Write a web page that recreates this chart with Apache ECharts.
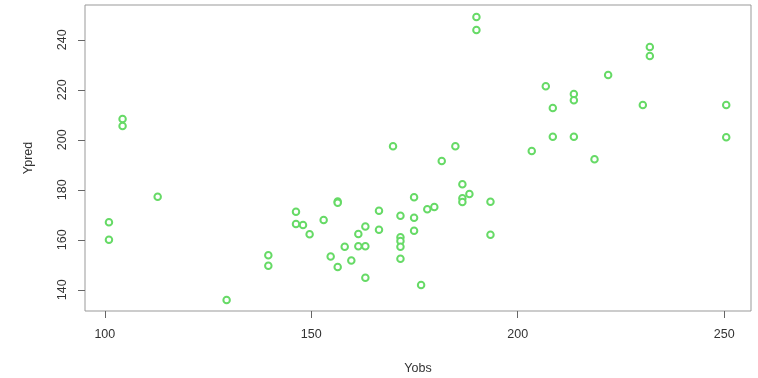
<!DOCTYPE html>
<html>
<head>
<meta charset="utf-8">
<script src="https://cdn.jsdelivr.net/npm/echarts@6/dist/echarts.min.js"></script>
<style>html,body{margin:0;padding:0;background:#fff}#c{width:758px;height:378px}</style>
</head>
<body>
<div id="c"></div>
<script>
const yobs = [101.0,101.0,104.3,104.3,112.8,129.5,139.6,139.6,146.3,146.3,148.0,149.6,153.0,154.7,156.4,156.4,156.4,158.1,159.7,161.4,161.4,163.1,163.1,163.1,166.4,166.4,169.8,171.6,171.6,171.6,171.6,171.6,174.9,174.9,174.9,176.6,178.1,179.8,181.6,184.9,186.6,186.6,186.6,188.3,190.0,190.0,193.4,193.4,203.4,206.8,208.5,208.5,213.6,213.6,213.6,218.6,221.9,230.3,232.0,232.0,250.5,250.5];
const ypred = [167.0,160.0,208.3,205.5,177.2,135.9,153.8,149.6,171.2,166.3,165.9,162.2,167.9,153.3,175.3,174.8,149.1,157.2,151.7,162.3,157.4,157.4,165.3,144.8,171.6,164.0,197.4,169.6,161.0,159.5,157.2,152.4,177.0,168.8,163.6,141.9,172.2,173.1,191.5,197.4,182.2,176.6,175.1,178.3,249.1,243.9,175.2,162.0,195.5,221.4,212.7,201.2,218.3,215.8,201.2,192.2,225.9,213.9,237.1,233.5,213.9,201.0];
const xTicks = [100,150,200,250];
const yTicks = [140,160,180,200,220,240];
const xName = 'Yobs';
const yName = 'Ypred';

const pts = yobs.map((v,i)=>[v, ypred[i]]);
const chart = echarts.init(document.getElementById('c'), null, {renderer:'canvas'});
const font = 'Liberation Sans, Arial, Helvetica, sans-serif';
chart.setOption({
  animation:false,
  backgroundColor:'#fff',
  grid:{left:85,right:7,top:5,bottom:67,containLabel:false,outerBoundsMode:'none',show:true,borderColor:'#999',borderWidth:1,backgroundColor:'transparent'},
  xAxis:{type:'value',min:95.2,max:256.5,
    axisLine:{show:false},
    axisTick:{show:true,inside:false,length:7,lineStyle:{color:'#666'},customValues:xTicks},
    axisLabel:{customValues:xTicks,margin:17,fontSize:12.5,color:'#333',fontFamily:font},
    splitLine:{show:false},
    name:xName,nameLocation:'middle',nameGap:51,nameTextStyle:{fontSize:12.5,color:'#333',fontFamily:font}},
  yAxis:{type:'value',min:131.5,max:253.9,
    axisLine:{show:false},
    axisTick:{show:true,inside:false,length:7,lineStyle:{color:'#666'},customValues:yTicks},
    axisLabel:{customValues:yTicks,rotate:90,margin:16,fontSize:12.5,color:'#333',fontFamily:font},
    splitLine:{show:false},
    name:yName,nameLocation:'middle',nameGap:50,nameRotate:90,nameTextStyle:{fontSize:12.5,color:'#333',fontFamily:font}},
  series:[{type:'scatter',data:pts,symbol:'emptyCircle',symbolSize:6.5,
    itemStyle:{color:'#66da66',borderColor:'#66da66',borderWidth:1.1,opacity:1}}]
});
</script>
</body>
</html>
